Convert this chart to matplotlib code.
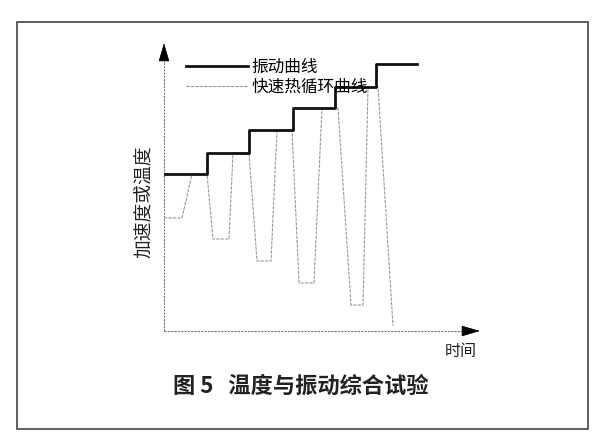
import matplotlib
matplotlib.use("Agg")
import matplotlib.pyplot as plt
from matplotlib.lines import Line2D
from matplotlib.patches import Rectangle

plt.rcParams['font.family'] = ['Noto Sans CJK SC', 'DejaVu Sans']

# Vibration test: stepwise acceleration levels (time, level), arbitrary units
vib_time = [0.0, 4.3, 8.5, 12.9, 17.1, 21.2, 25.3]
vib_level = [15.7, 17.8, 20.1, 22.3, 24.4, 26.7]

# Rapid thermal cycling profile (time, temperature), arbitrary units
therm_time = [0.0, 1.8, 2.8, 4.3, 4.9, 6.5, 6.9, 8.5, 9.3, 10.7, 11.3, 12.8,
              13.5, 15.0, 15.8, 17.4, 18.7, 19.9, 20.4, 21.4, 22.9]
therm_temp = [11.3, 11.3, 15.7, 15.7, 9.2, 9.2, 17.8, 17.8, 7.0, 7.0, 20.1, 20.1,
              4.8, 4.8, 22.3, 22.3, 2.6, 2.6, 24.4, 24.4, 0.5]

legend_labels = ['振动曲线', '快速热循环曲线']
x_label = '时间'
y_label = '加速度或温度'
caption = '图 5   温度与振动综合试验'

W, H = 611, 436
fig = plt.figure(figsize=(W / 100, H / 100), dpi=100)
fig.patch.set_facecolor('white')

# outer frame
fig.patches.append(Rectangle((17 / W, 1 - 429 / H), (588 - 17) / W, (429 - 22) / H,
                             transform=fig.transFigure, fill=False,
                             edgecolor='#333333', linewidth=1.1))

# plotting axes: origin at the axis crossing, 10 px per unit
x0, y0 = 164, 331
xmax, ymax = 31.6, 28.8
ax = fig.add_axes([x0 / W, 1 - y0 / H, xmax * 10 / W, ymax * 10 / H])
ax.set_xlim(0, xmax)
ax.set_ylim(0, ymax)
ax.axis('off')

# axes drawn as dashed shafts with solid arrowheads
ax.plot([0, 29.9], [0, 0], color='#777777', lw=0.8, ls=(0, (2, 1)), clip_on=False)
ax.plot([0, 0], [0, 27.1], color='#777777', lw=0.8, ls=(0, (2, 1)), clip_on=False)
head = dict(arrowstyle='-|>,head_length=1.2,head_width=0.35', color='black', lw=0.5,
            shrinkA=0, shrinkB=0)
ax.annotate('', xy=(xmax, 0), xytext=(29.8, 0), arrowprops=head, annotation_clip=False)
ax.annotate('', xy=(0, ymax), xytext=(0, 27.0), arrowprops=head, annotation_clip=False)

# curves
vib_y = vib_level + [vib_level[-1]]
ax.step(vib_time, vib_y, where='post', color='#111111', lw=2.0, zorder=3,
        label=legend_labels[0])
ax.plot(therm_time, therm_temp, color='#999999', lw=0.8, ls=(0, (3, 1)), zorder=2,
        label=legend_labels[1])

handles = [Line2D([], [], color='#111111', lw=2.0),
           Line2D([], [], color='#999999', lw=0.8, ls=(0, (3, 1)))]
ax.legend(handles, legend_labels, loc='upper left',
          bbox_to_anchor=(186 / W, 1 - 59 / H), bbox_transform=fig.transFigure,
          frameon=False, borderpad=0, borderaxespad=0, handlelength=3.7,
          handletextpad=0.2, labelspacing=0.18, fontsize=12)

fig.text(445 / W, 1 - 351 / H, x_label, fontsize=11.5, ha='left', va='center',
         color='#222222')
fig.text(145 / W, 1 - 202 / H, y_label, fontsize=13.5, rotation=90,
         ha='center', va='center', color='#222222')
fig.text(301 / W, 1 - 386 / H, caption, fontsize=16, fontweight='bold',
         ha='center', va='center', color='#222222')

fig.savefig('out.png', dpi=100)
